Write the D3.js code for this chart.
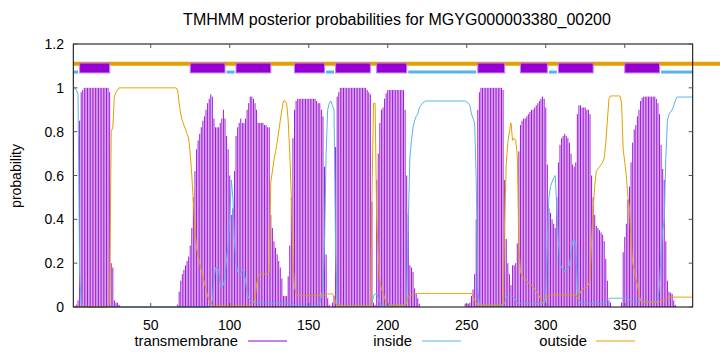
<!DOCTYPE html>
<html>
<head>
<meta charset="utf-8">
<script src="https://cdn.jsdelivr.net/npm/d3@7"></script>
<style>
  html, body { margin: 0; padding: 0; background: #fff; }
  svg { display: block; }
  text { font-family: "Liberation Sans", Arial, sans-serif; fill: #000; }
</style>
</head>
<body>
<svg id="chart" width="720" height="352"></svg>
<script>
// ---------------- DATA ----------------
const titleText = "TMHMM posterior probabilities for MGYG000003380_00200";
const seqLength = 393;
const xTicks = [50, 100, 150, 200, 250, 300, 350];
const yTicks = [0, 0.2, 0.4, 0.6, 0.8, 1, 1.2];
const yTickLabels = ["0", "0.2", "0.4", "0.6", "0.8", "1", "1.2"];
const seriesNames = ["transmembrane", "inside", "outside"];

// per-residue posterior probability of transmembrane (residues 1..393)
const transmembrane = [
  0,0,0.01,0.03,0.85,0.98,0.99,1,1,1,
  1,1,1,1,1,1,1,1,1,1,
  1,1,1,0.98,0.2,0.18,0.03,0.02,0.02,0.01,
  0,0,0,0,0,0,0,0,0,0,
  0,0,0,0,0,0,0,0,0,0,
  0,0,0,0,0,0,0,0,0,0,
  0,0,0,0,0,0,0.01,0.07,0.12,0.15,
  0.17,0.19,0.21,0.23,0.28,0.36,0.5,0.62,0.72,0.76,
  0.79,0.82,0.85,0.87,0.9,0.93,0.95,0.97,0.96,0.86,
  0.82,0.82,0.82,0.84,0.86,0.9,0.86,0.78,0.72,0.6,
  0.42,0.45,0.62,0.78,0.82,0.84,0.86,0.84,0.84,0.86,
  0.9,0.93,0.96,0.96,0.95,0.93,0.9,0.84,0.84,0.84,
  0.84,0.83,0.83,0.82,0.82,0.42,0.36,0.3,0.27,0.24,
  0.21,0.18,0.13,0.05,0.05,0.05,0.14,0.28,0.5,0.77,
  0.9,0.94,0.95,0.95,0.95,0.95,0.95,0.95,0.95,0.95,
  0.95,0.95,0.95,0.95,0.94,0.93,0.93,0.9,0.87,0.64,
  0.24,0.04,0.01,0,0.02,0.05,0.73,0.96,0.98,1,
  1,1,1,1,1,1,1,1,1,1,
  1,1,1,1,1,1,0.99,0.98,0.97,0.48,
  0.02,0.01,0.58,0.7,0.84,0.9,0.91,0.95,0.975,0.99,
  0.99,0.99,0.99,0.99,0.99,0.99,0.99,0.99,0.99,0.99,
  0.9,0.6,0.43,0.19,0.18,0.16,0.085,0.06,0.04,0.015,
  0,0,0,0,0,0,0,0,0,0,
  0,0,0,0,0,0,0,0,0,0,
  0,0,0,0,0,0,0,0,0.015,0.015,
  0.015,0.02,0.05,0.08,0.15,0.4,0.9,0.98,1,1,
  1,1,1,1,1,1,1,1,1,1,
  1,1,0.99,0.58,0.31,0.2,0.15,0.1,0.19,0.19,
  0.2,0.29,0.71,0.83,0.85,0.86,0.86,0.87,0.88,0.89,
  0.9,0.9,0.91,0.92,0.93,0.94,0.95,0.96,0.95,0.91,
  0.65,0.45,0.43,0.4,0.38,0.36,0.5,0.66,0.74,0.77,
  0.78,0.79,0.78,0.77,0.75,0.7,0.65,0.64,0.66,0.88,
  0.92,0.92,0.91,0.91,0.91,0.9,0.9,0.88,0.6,0.5,
  0.42,0.37,0.36,0.35,0.34,0.33,0.3,0.22,0.12,0.03,
  0.02,0,0,0,0,0,0,0.02,0.25,0.32,
  0.38,0.49,0.55,0.66,0.75,0.81,0.83,0.87,0.9,0.94,
  0.955,0.96,0.96,0.96,0.96,0.96,0.96,0.96,0.96,0.95,
  0.93,0.88,0.74,0.63,0.58,0.3,0.12,0.07,0.065,0.06,
  0.03,0.01,0,0,0,0,0,0,0,0,
  0,0,0
];

// per-residue posterior probability of inside
const inside = [
  1,1,0.99,0.97,0.15,0.02,0.005,0,0,0,
  0,0,0,0,0,0,0,0,0,0,
  0,0,0,0,0,0,0,0,0,0,
  0,0,0,0,0,0,0,0,0,0,
  0,0,0,0,0,0,0,0,0,0,
  0,0,0,0,0,0,0,0,0,0,
  0,0,0,0,0,0,0,0,0,0,
  0,0,0,0,0,0,0,0,0,0,
  0,0,0,0,0,0,0,0.01,0.03,0.12,
  0.18,0.18,0.17,0.1,0.09,0.1,0.14,0.22,0.28,0.4,
  0.58,0.5,0.3,0.2,0.16,0.15,0.15,0.17,0.16,0.12,
  0.06,0.04,0.03,0.025,0.02,0.02,0.02,0.02,0.02,0.02,
  0.02,0.02,0.02,0.02,0.02,0.015,0.015,0.015,0.015,0.015,
  0.015,0.015,0.015,0.015,0.015,0.015,0.015,0.015,0.01,0.01,
  0.01,0.005,0.005,0.005,0.005,0.005,0.005,0.005,0.005,0.005,
  0.005,0.005,0.005,0.005,0.005,0.01,0.02,0.05,0.08,0.3,
  0.7,0.9,0.93,0.94,0.92,0.9,0.25,0.03,0.01,0.005,
  0.005,0.005,0.005,0.005,0.005,0.005,0.005,0.005,0.005,0.005,
  0.005,0.005,0.005,0.005,0.005,0.005,0.005,0.005,0.005,0.02,
  0.05,0.06,0.06,0.04,0.02,0.005,0.005,0.005,0.005,0.005,
  0.005,0.005,0.005,0.005,0.005,0.005,0.005,0.005,0.005,0.005,
  0.005,0.03,0.39,0.68,0.76,0.82,0.85,0.87,0.88,0.91,
  0.92,0.93,0.935,0.94,0.94,0.94,0.94,0.94,0.94,0.94,
  0.94,0.94,0.94,0.94,0.94,0.94,0.94,0.94,0.94,0.94,
  0.94,0.94,0.94,0.94,0.94,0.94,0.94,0.94,0.94,0.935,
  0.93,0.92,0.88,0.86,0.84,0.58,0.08,0.01,0.005,0.005,
  0.005,0.005,0.005,0.005,0.005,0.005,0.005,0.005,0.005,0.005,
  0.005,0.005,0.005,0.02,0.04,0.05,0.055,0.055,0.05,0.04,
  0.03,0.02,0.01,0.015,0.015,0.015,0.015,0.015,0.015,0.015,
  0.015,0.015,0.015,0.015,0.015,0.015,0.015,0.015,0.015,0.05,
  0.3,0.5,0.55,0.57,0.59,0.6,0.45,0.3,0.2,0.18,
  0.17,0.16,0.17,0.18,0.19,0.25,0.3,0.31,0.28,0.08,
  0.03,0.02,0.015,0.015,0.015,0.015,0.015,0.015,0.015,0.015,
  0.015,0.015,0.015,0.015,0.015,0.015,0.015,0.025,0.03,0.04,
  0.04,0.04,0.04,0.04,0.04,0.04,0.04,0.04,0.04,0.04,
  0.04,0.04,0.035,0.025,0.025,0.025,0.025,0.025,0.025,0.025,
  0.025,0.025,0.025,0.025,0.025,0.025,0.025,0.025,0.025,0.025,
  0.03,0.1,0.25,0.35,0.4,0.68,0.85,0.88,0.89,0.9,
  0.92,0.94,0.958,0.958,0.958,0.958,0.958,0.958,0.958,0.958,
  0.958,0.958,0.958
];

// per-residue posterior probability of outside
const outside = [
  0,0,0,0,0,0,0,0,0,0,
  0,0,0,0,0,0,0,0,0,0,
  0,0,0,0.02,0.8,0.82,0.96,0.98,0.99,1,
  1,1,1,1,1,1,1,1,1,1,
  1,1,1,1,1,1,1,1,1,1,
  1,1,1,1,1,1,1,1,1,1,
  1,1,1,1,1,1,0.99,0.93,0.88,0.85,
  0.83,0.81,0.79,0.77,0.7,0.6,0.48,0.36,0.27,0.23,
  0.2,0.17,0.14,0.11,0.08,0.05,0.03,0.02,0.01,0.01,
  0.005,0.005,0.005,0.005,0.005,0.005,0.005,0.005,0.005,0.005,
  0.005,0.005,0.005,0.005,0.005,0.005,0.005,0.005,0.005,0.005,
  0.005,0.005,0.01,0.015,0.02,0.04,0.1,0.14,0.15,0.15,
  0.15,0.15,0.15,0.15,0.16,0.57,0.62,0.67,0.71,0.75,
  0.8,0.85,0.9,0.94,0.94,0.93,0.85,0.7,0.5,0.22,
  0.09,0.06,0.052,0.052,0.052,0.052,0.052,0.052,0.052,0.052,
  0.052,0.052,0.052,0.052,0.052,0.052,0.052,0.052,0.05,0.055,
  0.06,0.06,0.06,0.06,0.06,0.05,0.02,0.005,0.005,0.005,
  0.005,0.005,0.005,0.005,0.005,0.005,0.005,0.005,0.005,0.005,
  0.005,0.005,0.005,0.005,0.005,0.005,0.005,0.005,0.005,0.5,
  0.93,0.93,0.4,0.25,0.12,0.08,0.07,0.04,0.02,0.01,
  0.01,0.01,0.01,0.01,0.01,0.01,0.01,0.01,0.01,0.01,
  0.01,0.02,0.05,0.05,0.055,0.06,0.062,0.062,0.062,0.062,
  0.062,0.062,0.062,0.062,0.062,0.062,0.062,0.062,0.062,0.062,
  0.062,0.062,0.062,0.062,0.062,0.062,0.062,0.062,0.062,0.062,
  0.062,0.062,0.062,0.062,0.062,0.062,0.062,0.062,0.062,0.062,
  0.062,0.062,0.062,0.05,0.03,0.02,0.01,0.01,0.01,0.01,
  0.01,0.01,0.01,0.01,0.01,0.01,0.01,0.01,0.01,0.01,
  0.01,0.01,0.02,0.4,0.65,0.75,0.8,0.84,0.76,0.77,
  0.76,0.69,0.28,0.16,0.14,0.13,0.13,0.12,0.11,0.1,
  0.1,0.09,0.08,0.07,0.06,0.05,0.03,0.02,0.03,0.04,
  0.05,0.055,0.055,0.055,0.055,0.055,0.055,0.055,0.055,0.055,
  0.055,0.055,0.055,0.055,0.055,0.055,0.055,0.055,0.055,0.04,
  0.05,0.07,0.08,0.085,0.085,0.09,0.1,0.12,0.3,0.45,
  0.55,0.62,0.63,0.64,0.65,0.66,0.68,0.75,0.85,0.95,
  0.963,0.963,0.963,0.963,0.963,0.963,0.963,0.93,0.72,0.66,
  0.6,0.5,0.45,0.3,0.2,0.17,0.13,0.1,0.06,0.03,
  0.022,0.022,0.022,0.022,0.022,0.022,0.022,0.022,0.022,0.022,
  0.022,0.025,0.03,0.03,0.03,0.035,0.04,0.042,0.045,0.045,
  0.045,0.045,0.045,0.045,0.045,0.045,0.045,0.045,0.045,0.045,
  0.045,0.045,0.045
];

// predicted topology segments (start, end residue)
const tmSegments = [[5,24],[75,97],[104,126],[141,160],[167,189],[193,212],[257,274],[284,301],[308,330],[350,372]];
const insideSegments = [[1,4],[98,103],[161,166],[213,256],[302,307],[373,393]];
const outsideSpan = [1, 393];

// ---------------- DRAW ----------------
const colTM = "#9400D3", colIn = "#56B4E9", colOut = "#E69F00";
const svg = d3.select("#chart");
const x = d3.scaleLinear().domain([1, seqLength]).range([73.3, 692.7]);
const y = d3.scaleLinear().domain([0, 1.2]).range([307, 44]);
const residues = d3.range(1, seqLength + 1);

// impulses (transmembrane)
svg.append("g").selectAll("line").data(residues).join("line")
  .attr("x1", r => x(r)).attr("x2", r => x(r))
  .attr("y1", y(0)).attr("y2", r => y(transmembrane[r - 1]))
  .attr("stroke", colTM).attr("stroke-width", 1).attr("stroke-opacity", 0.9);

const line = arr => d3.line().x(r => x(r)).y(r => y(arr[r - 1]))(residues);
svg.append("path").attr("d", line(inside)).attr("fill", "none").attr("stroke", colIn).attr("stroke-width", 1);
svg.append("path").attr("d", line(outside)).attr("fill", "none").attr("stroke", colOut).attr("stroke-width", 1);

// topology bar on top
svg.append("line").attr("x1", x(outsideSpan[0])).attr("x2", 720)
  .attr("y1", y(1.11)).attr("y2", y(1.11)).attr("stroke", colOut).attr("stroke-width", 4);
svg.append("g").selectAll("line").data(insideSegments).join("line")
  .attr("x1", d => x(d[0])).attr("x2", d => x(d[1]))
  .attr("y1", y(1.072)).attr("y2", y(1.072)).attr("stroke", colIn).attr("stroke-width", 3);
svg.append("g").selectAll("rect").data(tmSegments).join("rect")
  .attr("x", d => x(d[0])).attr("width", d => x(d[1]) - x(d[0]))
  .attr("y", y(1.113)).attr("height", y(1.068) - y(1.113))
  .attr("fill", colTM).attr("stroke", "#c77ee6").attr("stroke-width", 1);

// border
svg.append("rect").attr("x", 73.3).attr("y", 44).attr("width", 692.7 - 73.3).attr("height", 307 - 44)
  .attr("fill", "none").attr("stroke", "#000").attr("stroke-width", 1);

// ticks
const tl = 4;
const gt = svg.append("g").attr("stroke", "#555").attr("stroke-width", 1);
xTicks.forEach(t => {
  gt.append("line").attr("x1", x(t)).attr("x2", x(t)).attr("y1", 307).attr("y2", 307 - tl);
  gt.append("line").attr("x1", x(t)).attr("x2", x(t)).attr("y1", 44).attr("y2", 44 + tl);
});
yTicks.forEach(t => {
  gt.append("line").attr("x1", 73.3).attr("x2", 73.3 + tl).attr("y1", y(t)).attr("y2", y(t));
  gt.append("line").attr("x1", 692.7).attr("x2", 692.7 - tl).attr("y1", y(t)).attr("y2", y(t));
});
svg.append("g").selectAll("text").data(xTicks).join("text")
  .attr("x", d => x(d)).attr("y", 330).attr("text-anchor", "middle")
  .style("font-size", "14px").text(d => d);
svg.append("g").selectAll("text").data(yTicks).join("text")
  .attr("x", 64).attr("y", d => y(d) + 5).attr("text-anchor", "end")
  .style("font-size", "14px").text((d, i) => yTickLabels[i]);

// title and axis label
svg.append("text").attr("x", 397).attr("y", 25).attr("text-anchor", "middle")
  .style("font-size", "16px").text(titleText);
svg.append("text").attr("transform", "translate(21,176) rotate(-90)").attr("text-anchor", "middle")
  .style("font-size", "14px").text("probability");

// legend
const legend = [
  {name: seriesNames[0], tx: 238, lx1: 248, lx2: 287, c: colTM},
  {name: seriesNames[1], tx: 412, lx1: 422, lx2: 461, c: colIn},
  {name: seriesNames[2], tx: 587, lx1: 596, lx2: 635, c: colOut}
];
legend.forEach(l => {
  svg.append("text").attr("x", l.tx).attr("y", 346).attr("text-anchor", "end")
    .style("font-size", "14.8px").text(l.name);
  svg.append("line").attr("x1", l.lx1).attr("x2", l.lx2).attr("y1", 341).attr("y2", 341)
    .attr("stroke", l.c).attr("stroke-width", 1);
});
</script>
</body>
</html>
